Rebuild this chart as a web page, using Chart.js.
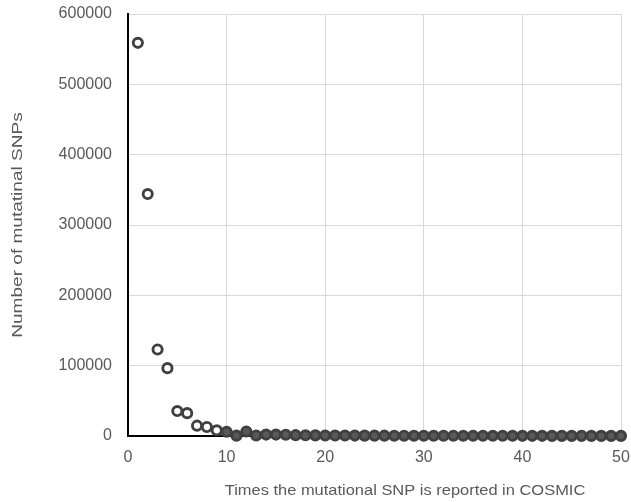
<!DOCTYPE html>
<html>
<head>
<meta charset="utf-8">
<script src="https://cdn.jsdelivr.net/npm/chart.js@4.4.1/dist/chart.umd.min.js"></script>
<style>
  html, body { margin: 0; padding: 0; background: #ffffff; }
  #wrap { width: 631px; height: 502px; position: relative; }
</style>
</head>
<body>
<div id="wrap"><canvas id="c" width="631" height="502"></canvas></div>
<script>
const times = [1,2,3,4,5,6,7,8,9,10,11,12,13,14,15,16,17,18,19,20,21,22,23,24,25,26,27,28,29,30,31,32,33,34,35,36,37,38,39,40,41,42,43,44,45,46,47,48,49,50];
const snpCounts = [559000,344000,123000,96500,35500,32500,14700,12800,8100,6000,500,6500,800,2000,2000,1800,1200,1000,900,800,700,650,600,550,500,480,450,420,400,380,360,340,320,300,290,280,270,260,250,240,230,220,210,200,190,180,170,160,150,140];
const xTicks = [0,10,20,30,40,50];
const yTicks = [0,100000,200000,300000,400000,500000,600000];
const xTitle = 'Times the mutational SNP is reported in COSMIC';
const yTitle = 'Number of mutatinal SNPs';

const points = times.map((t, i) => ({ x: t, y: snpCounts[i] }));
const FONT = 'Arial, "Liberation Sans", sans-serif';

const titlesPlugin = {
  id: 'titlesPlugin',
  afterDraw(chart) {
    const ctx = chart.ctx;
    const area = chart.chartArea;
    ctx.save();
    ctx.font = '15px ' + FONT;
    ctx.fillStyle = '#595959';
    ctx.textAlign = 'center';
    ctx.textBaseline = 'middle';
    // x axis title
    ctx.save();
    ctx.translate(405, 491);
    ctx.scale(1.097, 1);
    ctx.fillText(xTitle, 0, 0);
    ctx.restore();
    // y axis title
    ctx.save();
    ctx.translate(18, (area.top + area.bottom) / 2);
    ctx.rotate(-Math.PI / 2);
    ctx.scale(1.27, 1);
    ctx.fillText(yTitle, 0, 0);
    ctx.restore();
    ctx.restore();
  }
};

new Chart(document.getElementById('c'), {
  type: 'scatter',
  data: {
    datasets: [{
      data: points,
      clip: false,
      pointRadius: 4.6,
      pointBorderWidth: 2.9,
      pointBorderColor: '#404040',
      pointBackgroundColor: ctx => (ctx.raw && ctx.raw.x < 10) ? '#ffffff' : '#595959',
      pointHoverRadius: 4.6
    }]
  },
  options: {
    responsive: false,
    animation: false,
    events: [],
    layout: { padding: { top: 14, right: 10, left: 0, bottom: 0 } },
    plugins: { legend: { display: false }, tooltip: { enabled: false } },
    scales: {
      x: {
        type: 'linear',
        min: 0, max: 50,
        afterBuildTicks: s => { s.ticks = xTicks.map(v => ({ value: v })); },
        afterFit: s => { s.height = 66; s.paddingLeft = 0; s.paddingRight = 0; },
        grid: { color: '#d9d9d9', lineWidth: 1, drawTicks: false },
        border: { display: true, color: '#000000', width: 2 },
        ticks: { color: '#595959', font: { size: 16, family: FONT }, padding: 12, maxRotation: 0 }
      },
      y: {
        type: 'linear',
        min: 0, max: 600000,
        afterBuildTicks: s => { s.ticks = yTicks.map(v => ({ value: v })); },
        afterFit: s => { s.width = 128; s.paddingTop = 0; s.paddingBottom = 0; },
        grid: { color: '#d9d9d9', lineWidth: 1, drawTicks: false },
        border: { display: true, color: '#000000', width: 2 },
        ticks: { color: '#595959', font: { size: 16, family: FONT }, padding: 16, callback: v => String(v) }
      }
    }
  },
  plugins: [titlesPlugin]
});
</script>
</body>
</html>
